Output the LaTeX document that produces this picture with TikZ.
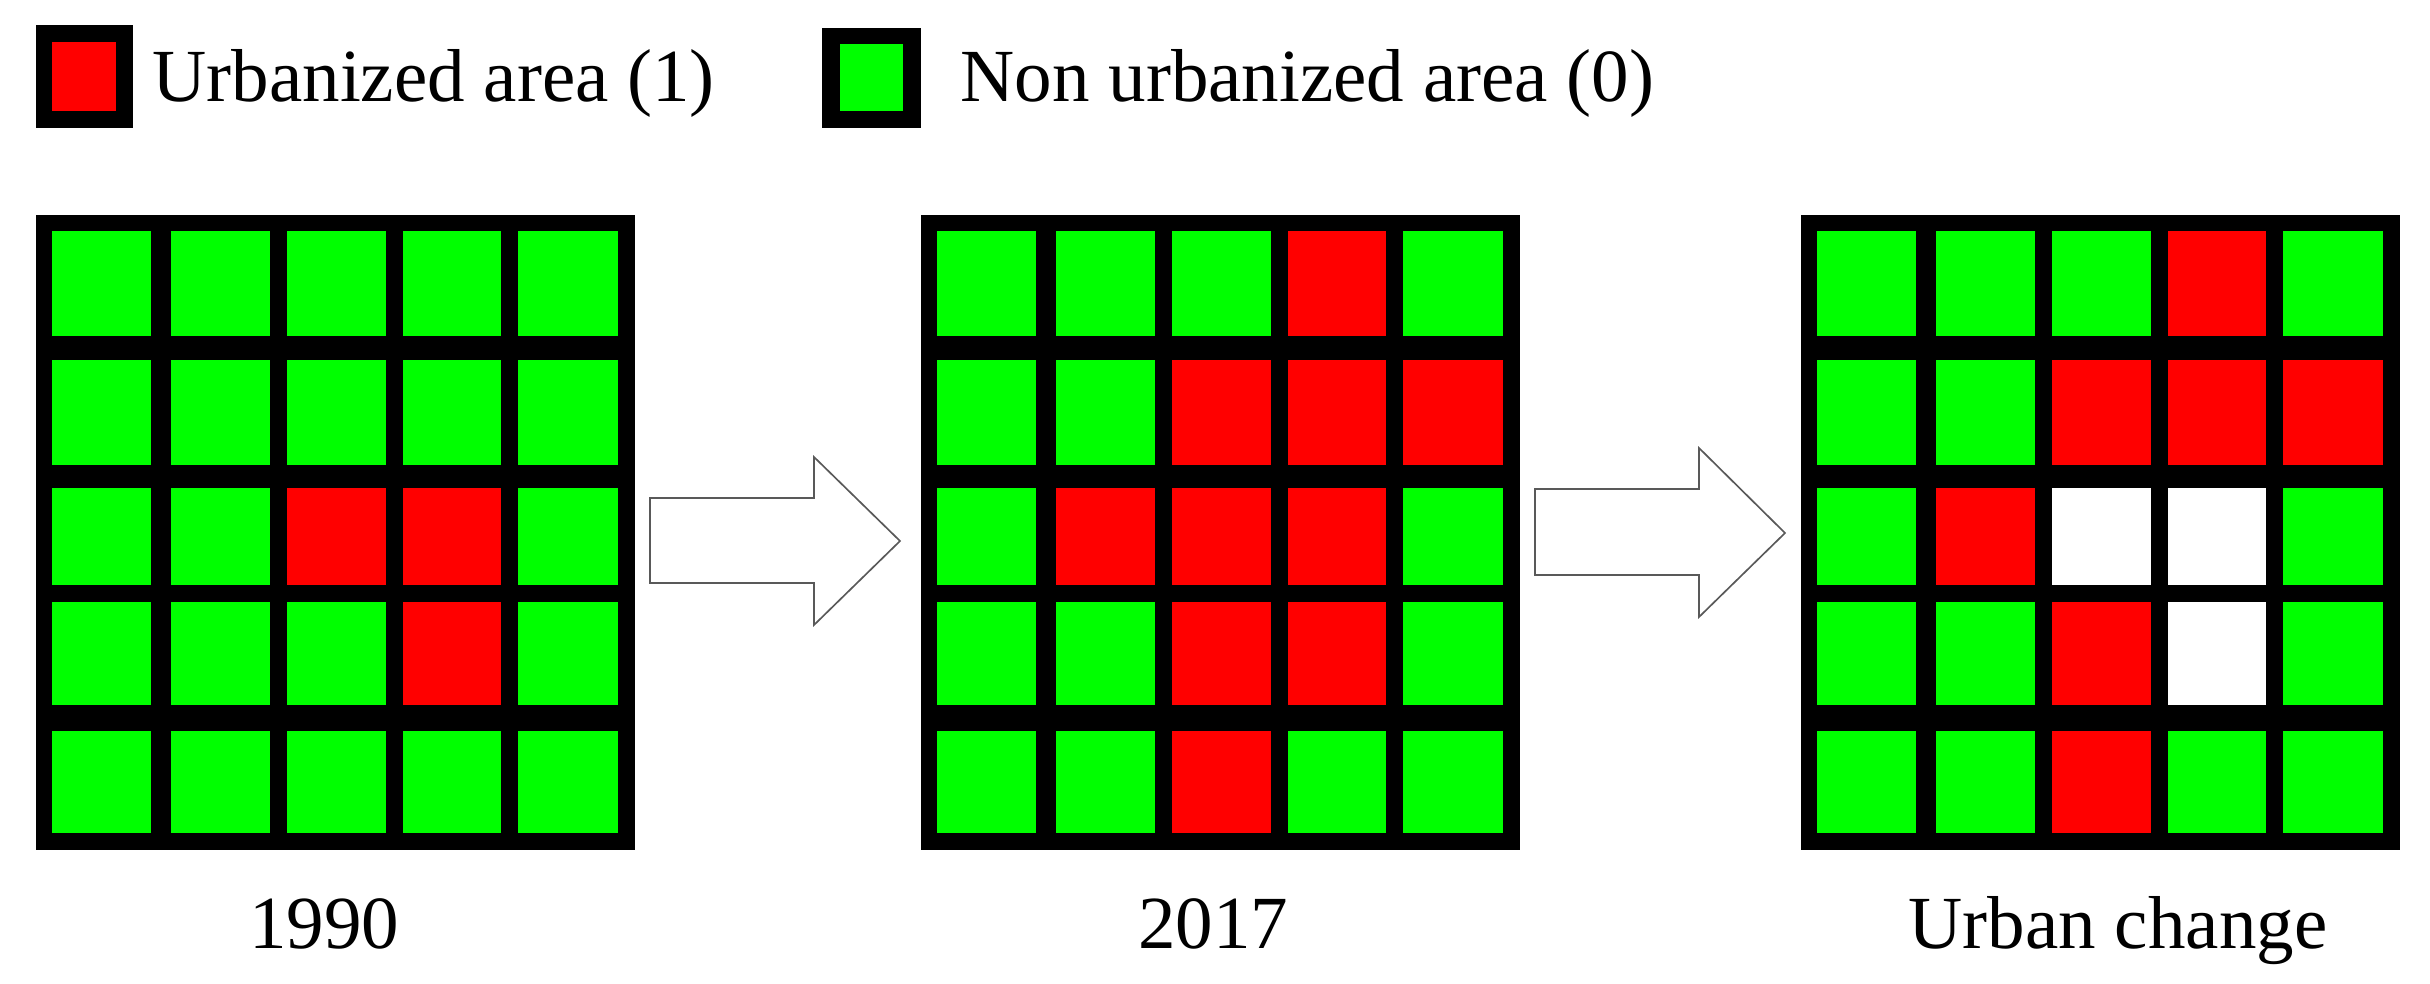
\documentclass[tikz,border=0pt]{standalone}
\usepackage{fontspec}
\setmainfont{Liberation Serif}
\definecolor{cgreen}{RGB}{0,255,0}
\definecolor{cred}{RGB}{255,0,0}
\tikzset{
  G/.style={fill=cgreen},
  R/.style={fill=cred},
  W/.style={fill=white},
  frame/.style={fill=black},
  bigarrow/.style={draw=black!65, line width=0.5pt, fill=white, line join=miter},
  lbl/.style={font=\fontsize{22.5}{27}\selectfont, inner sep=0pt},
}
\newcommand\cellrow[8]{%
  \fill[#4] ({#1+16},#2) rectangle ({#1+115},#3);
  \fill[#5] ({#1+135},#2) rectangle ({#1+234},#3);
  \fill[#6] ({#1+251},#2) rectangle ({#1+350},#3);
  \fill[#7] ({#1+367},#2) rectangle ({#1+465},#3);
  \fill[#8] ({#1+482},#2) rectangle ({#1+582},#3);
}
\newcommand\gridframe[1]{\fill[frame] (#1,215) rectangle ({#1+599},850);}
\begin{document}
\begin{tikzpicture}[x=0.3pt,y=-0.3pt]
\useasboundingbox (0,0) rectangle (2430,983);
% legend
\fill[frame] (36,25) rectangle (133,128);
\fill[R] (52,42) rectangle (116,111);
\node[lbl, anchor=base west] (leg1) at (152,102) {Urbanized area (1)};
\fill[frame] (822,28) rectangle (921,128);
\fill[G] (840,44) rectangle (903,111);
\node[lbl, anchor=base west] (leg2) at (960,102) {Non urbanized area (0)};
% grid 1990
\gridframe{36}
\cellrow{36}{231}{336}{G}{G}{G}{G}{G}
\cellrow{36}{360}{465}{G}{G}{G}{G}{G}
\cellrow{36}{488}{585}{G}{G}{R}{R}{G}
\cellrow{36}{602}{705}{G}{G}{G}{R}{G}
\cellrow{36}{731}{833}{G}{G}{G}{G}{G}
% grid 2017
\gridframe{921}
\cellrow{921}{231}{336}{G}{G}{G}{R}{G}
\cellrow{921}{360}{465}{G}{G}{R}{R}{R}
\cellrow{921}{488}{585}{G}{R}{R}{R}{G}
\cellrow{921}{602}{705}{G}{G}{R}{R}{G}
\cellrow{921}{731}{833}{G}{G}{R}{G}{G}
% grid change
\gridframe{1801}
\cellrow{1801}{231}{336}{G}{G}{G}{R}{G}
\cellrow{1801}{360}{465}{G}{G}{R}{R}{R}
\cellrow{1801}{488}{585}{G}{R}{W}{W}{G}
\cellrow{1801}{602}{705}{G}{G}{R}{W}{G}
\cellrow{1801}{731}{833}{G}{G}{R}{G}{G}
% arrows
\draw[bigarrow] (650,498) -- (814,498) -- (814,457) -- (900,541) -- (814,625) -- (814,583) -- (650,583) -- cycle;
\draw[bigarrow] (1535,489) -- (1699,489) -- (1699,448) -- (1785,533) -- (1699,617) -- (1699,575) -- (1535,575) -- cycle;
% labels
\node[lbl, anchor=base] (y1) at (324,948) {1990};
\node[lbl, anchor=base] (y2) at (1213,948) {2017};
\node[lbl, anchor=base] (y3) at (2118,948) {Urban change};
\end{tikzpicture}
\end{document}
